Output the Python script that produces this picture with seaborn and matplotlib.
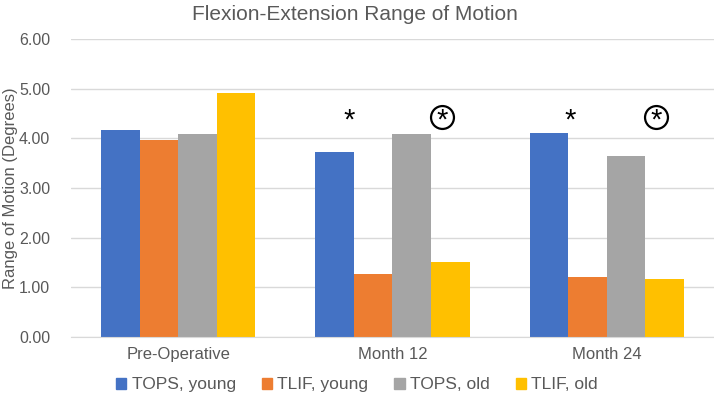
import pandas as pd
import seaborn as sns
import matplotlib.pyplot as plt

timepoints = ['Pre-Operative', 'Month 12', 'Month 24']
groups = ['TOPS, young', 'TLIF, young', 'TOPS, old', 'TLIF, old']
tops_young = [4.17, 3.72, 4.11]
tlif_young = [3.96, 1.27, 1.20]
tops_old = [4.09, 4.08, 3.65]
tlif_old = [4.92, 1.50, 1.16]
colors = ['#4472C4', '#ED7D31', '#A5A5A5', '#FFC000']

# significance marks: (timepoint index, offset from category centre, circled?)
marks = [(1, -0.20, False), (1, 0.23, True), (2, -0.17, False), (2, 0.23, True)]
mark_y = 4.43

rows = []
for g, vals in zip(groups, [tops_young, tlif_young, tops_old, tlif_old]):
    for t, v in zip(timepoints, vals):
        rows.append({'Timepoint': t, 'Group': g, 'ROM': v})
df = pd.DataFrame(rows)

sns.set_style('white')
plt.rcParams['font.family'] = ['Liberation Sans', 'DejaVu Sans']
text_col = '#595959'

fig = plt.figure(figsize=(7.14, 4.01), dpi=100)
ax = fig.add_axes([0.0994, 0.16, 0.9006, 0.7427])
sns.barplot(data=df, x='Timepoint', y='ROM', hue='Group', order=timepoints,
            hue_order=groups, palette=colors, width=0.72, gap=0, saturation=1,
            linewidth=0, ax=ax, legend=False)

ax.set_ylim(0, 6)
ax.set_xlim(-0.5, 2.5)
ax.set_yticks(range(7))
ax.set_yticklabels([f'{v:.2f}' for v in range(7)])
ax.yaxis.grid(True, color='#D9D9D9', linewidth=1)
ax.set_axisbelow(True)
for s in ['top', 'right', 'left']:
    ax.spines[s].set_visible(False)
ax.spines['bottom'].set_color('#D9D9D9')
ax.tick_params(axis='both', length=0, labelsize=12, colors=text_col, pad=7)
ax.tick_params(axis='y', labelsize=11.5, pad=15)
ax.set_xlabel('')
ax.set_ylabel('Range of Motion (Degrees)', fontsize=12, color=text_col)
ax.yaxis.set_label_coords(-0.083, 0.5)
fig.text(0.497, 0.965, 'Flexion-Extension Range of Motion', fontsize=15,
         color=text_col, ha='center', va='center')

for ti, off, circled in marks:
    ax.text(ti + off, mark_y - 0.08, '*', ha='center', va='center', fontsize=21,
            color='black')
    if circled:
        ax.plot(ti + off, mark_y, 'o', ms=16.5, mfc='none', mec='black', mew=1.6)

handles = [plt.Rectangle((0, 0), 1, 1, color=c) for c in colors]
fig.legend(handles, groups, loc='center', bbox_to_anchor=(0.5, 0.04), ncol=4,
           frameon=False, fontsize=12.5, handlelength=0.6, handleheight=0.6,
           handletextpad=0.3, columnspacing=1.5, labelcolor=text_col)

fig.savefig('out.png', dpi=100)
